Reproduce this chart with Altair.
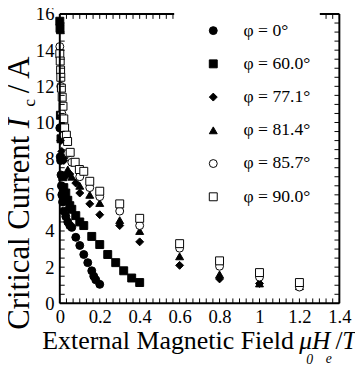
import altair as alt
import pandas as pd

SERIES = ["φ = 0°", "φ = 60.0°", "φ = 77.1°", "φ = 81.4°", "φ = 85.7°", "φ = 90.0°"]
SHAPES = ["circle", "square", "diamond", "triangle-up", "circle", "square"]
FILLS = ["black", "black", "black", "black", "white", "white"]
STROKES = ["black"] * 6

x_0 = [0.0, 0.002, 0.004, 0.006, 0.008, 0.01, 0.014, 0.02, 0.03, 0.04, 0.05, 0.06, 0.08, 0.1, 0.12, 0.14, 0.16, 0.17, 0.18, 0.2]
y_0 = [9.7, 8.1, 7.9, 7.1, 6.5, 6.0, 5.6, 5.1, 4.8, 4.5, 4.3, 4.2, 3.65, 3.2, 2.7, 2.25, 1.8, 1.5, 1.3, 1.05]

x_60 = [0.0, 0.001, 0.003, 0.006, 0.01, 0.015, 0.02, 0.03, 0.04, 0.05, 0.06, 0.08, 0.1, 0.12, 0.16, 0.2, 0.24, 0.28, 0.32, 0.36, 0.4]
y_60 = [15.6, 15.2, 10.4, 9.1, 8.0, 7.0, 6.4, 6.1, 5.7, 5.4, 5.2, 4.85, 4.5, 4.3, 3.7, 3.25, 2.7, 2.25, 1.8, 1.4, 1.15]

x_77 = [0.005, 0.01, 0.02, 0.035, 0.05, 0.08, 0.1, 0.15, 0.2, 0.3, 0.4, 0.6, 0.8, 1.0, 1.2]
y_77 = [9.0, 8.4, 7.9, 7.1, 7.15, 6.65, 6.1, 5.5, 4.9, 4.3, 3.4, 2.1, 1.35, 1.1, 0.95]

x_81 = [0.003, 0.01, 0.02, 0.04, 0.06, 0.1, 0.15, 0.2, 0.3, 0.4, 0.6, 0.8, 1.0, 1.2]
y_81 = [15.1, 10.0, 8.2, 7.4, 7.0, 6.5, 6.0, 5.55, 4.6, 4.0, 2.6, 1.6, 1.1, 0.95]

x_86 = [0.0, 0.005, 0.01, 0.02, 0.04, 0.06, 0.1, 0.15, 0.2, 0.3, 0.4, 0.6, 0.8, 1.0, 1.2]
y_86 = [14.2, 12.0, 10.5, 9.3, 8.3, 7.8, 7.0, 6.4, 5.9, 5.1, 4.3, 3.05, 2.05, 1.45, 0.9]

x_90 = [0.0, 0.002, 0.004, 0.005, 0.008, 0.012, 0.016, 0.02, 0.024, 0.033, 0.039, 0.052, 0.077, 0.098, 0.12, 0.15, 0.2, 0.3, 0.4, 0.6, 0.8, 1.0, 1.2]
y_90 = [13.8, 13.4, 12.9, 12.5, 11.9, 11.4, 10.9, 10.2, 9.7, 9.3, 8.95, 8.35, 7.8, 7.4, 7.3, 6.75, 6.2, 5.5, 4.7, 3.3, 2.35, 1.7, 1.15]

X_TICKS = [0, 0.2, 0.4, 0.6, 0.8, 1, 1.2, 1.4]
Y_TICKS = [0, 2, 4, 6, 8, 10, 12, 14, 16]
X_MINOR = [i / 30 for i in range(43)]
Y_MINOR = [i / 2 for i in range(33)]

W, H = 286, 296
FONT = "Liberation Serif"

rows = []
for name, xs, ys in zip(SERIES, [x_0, x_60, x_77, x_81, x_86, x_90], [y_0, y_60, y_77, y_81, y_86, y_90]):
    for a, b in zip(xs, ys):
        rows.append({"series": name, "x": a, "y": b})
df = pd.DataFrame(rows)

xscale = alt.Scale(domain=[0, 1.4], nice=False, zero=False)
yscale = alt.Scale(domain=[0, 16], nice=False, zero=False)
XAX = alt.Axis(values=X_TICKS, format="~g", ticks=False, domain=False, grid=False,
               labelFont=FONT, labelFontSize=19, labelColor="black", labelPadding=5,
               title=None, labelFlush=False)
YAX = alt.Axis(values=Y_TICKS, ticks=False, domain=False, grid=False,
               labelFont=FONT, labelFontSize=19, labelColor="black", labelPadding=6,
               title=None, labelFlush=False)

LEG = alt.Legend(title=None, orient="none", legendX=148, legendY=8)
points = alt.Chart(df).mark_point(filled=True, strokeWidth=1, size=66, opacity=1).encode(
    x=alt.X("x:Q", scale=xscale, axis=XAX),
    y=alt.Y("y:Q", scale=yscale, axis=YAX),
    shape=alt.Shape("series:N", scale=alt.Scale(domain=SERIES, range=SHAPES), legend=LEG),
    fill=alt.Fill("series:N", scale=alt.Scale(domain=SERIES, range=FILLS), legend=LEG),
    stroke=alt.Stroke("series:N", scale=alt.Scale(domain=SERIES, range=STROKES), legend=LEG),
)

one = pd.DataFrame({"a": [0]})

def rule(x1, x2, y1, y2, w=2):
    return alt.Chart(one).mark_rule(color="black", strokeWidth=w).encode(
        x=alt.value(x1), x2=alt.value(x2), y=alt.value(y1), y2=alt.value(y2))

frame = [
    rule(0, 0, 0, H), rule(W, W, 0, H), rule(0, W, H, H),
    rule(0, 117, 0, 0), rule(266, W, 0, 0),
]

xt = pd.DataFrame({"v": X_MINOR})
yt = pd.DataFrame({"v": Y_MINOR})
xt_top = xt[(xt.v <= 0.57) | (xt.v >= 1.31)]

def xticks(ypos, direction, data):
    return alt.Chart(data).mark_rule(color="black", strokeWidth=1).encode(
        x=alt.X("v:Q", scale=xscale, axis=XAX),
        y=alt.value(ypos),
        y2=alt.value(ypos + direction * 5),
    )

def yticks(xpos, direction, data):
    return alt.Chart(data).mark_rule(color="black", strokeWidth=1).encode(
        y=alt.Y("v:Q", scale=yscale, axis=YAX),
        x=alt.value(xpos),
        x2=alt.value(xpos + direction * 5),
    )

ticks = [
    xticks(H, -1, xt), xticks(0, 1, xt_top),
    yticks(0, 1, yt), yticks(W, -1, yt),
]

def txt(s, x, y, size, italic=False, angle=0):
    kw = dict(text=s, font=FONT, fontSize=size, align="left", baseline="alphabetic", color="black")
    if italic:
        kw["fontStyle"] = "italic"
    if angle:
        kw["angle"] = angle
    return alt.Chart(one).mark_text(**kw).encode(x=alt.value(x), y=alt.value(y))

titles = [
    txt("External Magnetic Field", -18, 343, 26.5),
    txt("μ", 245, 343, 26, True),
    txt("0", 252, 358, 14, True),
    txt("H", 258, 343, 26, True),
    txt("e", 272, 357, 14, True),
    txt("/", 282, 343, 26),
    txt("T", 289, 343, 26, True),
    txt("Critical Current", -32, 323, 31.5, angle=270),
    txt("I", -32, 117, 31.5, True, angle=270),
    txt("c", -25, 95, 18, angle=270),
    txt("/ A", -32, 81, 31.5, angle=270),
]

chart = alt.layer(points, *frame, *ticks, *titles).properties(
    width=W, height=H,
    background="white",
    autosize=alt.AutoSizeParams(type="none"),
    padding={"left": 53, "top": 2, "right": 16, "bottom": 61},
).configure_view(stroke=None).configure_legend(
    labelFont=FONT, labelFontSize=18, labelColor="black", symbolSize=66, symbolStrokeColor="black",
    symbolStrokeWidth=1, rowPadding=16, labelOffset=22, labelLimit=200,
)

chart.save("out.html", embed_options={"renderer": "svg", "actions": False})
